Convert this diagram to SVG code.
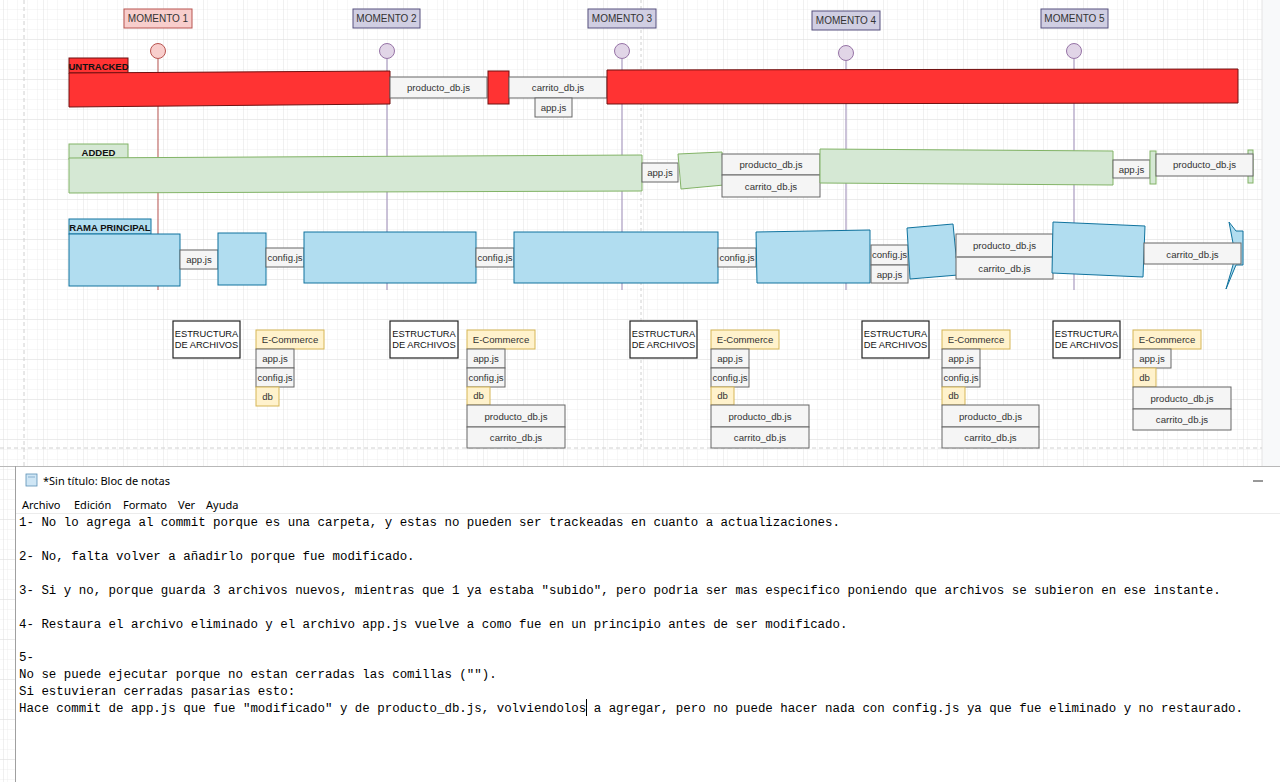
<svg xmlns="http://www.w3.org/2000/svg" width="1280" height="782" viewBox="0 0 1280 782">
<defs>
<pattern id="minor" width="10" height="10" patternUnits="userSpaceOnUse" x="4" y="0">
<path d="M10 0V10H0" fill="none" stroke="#eeeeee" stroke-width="1"/>
</pattern>
<pattern id="major" width="40" height="40" patternUnits="userSpaceOnUse" x="4" y="0">
<rect width="40" height="40" fill="url(#minor)"/>
<path d="M40 0V40H0" fill="none" stroke="#e0e0e0" stroke-width="1"/>
</pattern>
<style>
text{font-family:"Liberation Sans",Arial,sans-serif;fill:#333;}
.lbl{font-size:9.6px;text-anchor:middle;}
.est-t{font-size:9.3px;text-anchor:middle;fill:#111;}
.mom{font-size:10px;text-anchor:middle;fill:#333;}
.hdr{font-size:9.5px;font-weight:bold;fill:#111;text-anchor:middle;}
.file{fill:#f5f5f5;stroke:#666;stroke-width:1;}
.red{fill:#ff3333;stroke:#6f1111;stroke-width:1;}
.grn{fill:#d5e8d4;stroke:#82b366;stroke-width:1;}
.blu{fill:#b1ddf0;stroke:#10739e;stroke-width:1;}
.yel{fill:#fff2cc;stroke:#d6b656;stroke-width:1;}
.mp{fill:#d0cee2;stroke:#56517e;stroke-width:1;}
.mr{fill:#f8cecc;stroke:#b85450;stroke-width:1;}
.est{fill:#fff;stroke:#222;stroke-width:1.2;}
.mono{font-family:"Liberation Mono","DejaVu Sans Mono",monospace;font-size:12.45px;fill:#000;}
.ui{font-family:"Noto Sans","Liberation Sans",sans-serif;font-size:11px;fill:#000;}
</style>
</defs>

<!-- canvas background -->
<rect x="0" y="0" width="1280" height="782" fill="#ffffff"/>
<rect x="0" y="0" width="1262" height="466" fill="url(#major)"/>
<rect x="1262" y="0" width="18" height="466" fill="#f8f9fa"/>
<line x1="1262" y1="0" x2="1262" y2="466" stroke="#e4e4e4"/>
<line x1="24" y1="0" x2="24" y2="466" stroke="#d0d0d0" stroke-dasharray="4 3"/>
<line x1="641" y1="0" x2="641" y2="448" stroke="#d0d0d0" stroke-dasharray="3 3"/>
<line x1="0" y1="448" x2="1262" y2="448" stroke="#d0d0d0" stroke-dasharray="4 3"/>

<!-- lifelines -->
<g id="lifelines">
<line x1="158" y1="59" x2="158" y2="290" stroke="#b85450" stroke-width="1"/>
<line x1="387" y1="59" x2="387" y2="290" stroke="#a99bc0" stroke-width="1.2"/>
<line x1="622" y1="59" x2="622" y2="290" stroke="#a99bc0" stroke-width="1.2"/>
<line x1="846" y1="61" x2="846" y2="290" stroke="#a99bc0" stroke-width="1.2"/>
<line x1="1074" y1="59" x2="1074" y2="290" stroke="#a99bc0" stroke-width="1.2"/>
</g>

<!-- momentos -->
<g id="momento1"><rect class="mr" x="124" y="9" width="68" height="19"/><text class="mom" x="158" y="22">MOMENTO 1</text><circle cx="158" cy="51" r="7.5" class="mr"/></g>
<g id="momento2"><rect class="mp" x="353" y="9" width="67" height="19"/><text class="mom" x="386.5" y="22">MOMENTO 2</text><circle cx="387" cy="51" r="7.5" fill="#e1d5e7" stroke="#9673a6"/></g>
<g id="momento3"><rect class="mp" x="588" y="9" width="68" height="19"/><text class="mom" x="622" y="22">MOMENTO 3</text><circle cx="622" cy="51" r="7.5" fill="#e1d5e7" stroke="#9673a6"/></g>
<g id="momento4"><rect class="mp" x="812" y="11" width="68" height="19"/><text class="mom" x="846" y="24">MOMENTO 4</text><circle cx="846" cy="53" r="7.5" fill="#e1d5e7" stroke="#9673a6"/></g>
<g id="momento5"><rect class="mp" x="1041" y="9" width="67" height="19"/><text class="mom" x="1074.5" y="22">MOMENTO 5</text><circle cx="1074" cy="51" r="7.5" fill="#e1d5e7" stroke="#9673a6"/></g>

<!-- UNTRACKED -->
<g id="untracked">
<rect class="red" x="69" y="58" width="59" height="15"/>
<text class="hdr" x="98.5" y="69.5">UNTRACKED</text>
<polygon class="red" points="69,73 390,71 390,104 69,107"/>
<rect class="file" x="390" y="77" width="97" height="21"/><text class="lbl" x="438.5" y="91">producto_db.js</text>
<rect class="red" x="488" y="71" width="21" height="33"/>
<rect class="file" x="509" y="77" width="98" height="21"/><text class="lbl" x="558" y="91">carrito_db.js</text>
<rect class="file" x="535" y="98" width="37" height="19"/><text class="lbl" x="553.5" y="111">app.js</text>
<polygon class="red" points="607,70 1238,69 1238,103 607,104"/>
</g>

<!-- ADDED -->
<g id="added">
<rect class="grn" x="69" y="144" width="59" height="15"/>
<text class="hdr" x="98.5" y="155.5">ADDED</text>
<polygon class="grn" points="69,158 642,155 642,191 69,193"/>
<rect class="file" x="642" y="163" width="36" height="19"/><text class="lbl" x="660" y="176">app.js</text>
<polygon class="grn" points="678,154 722,152 724,185 681,189"/>
<rect class="file" x="722" y="154" width="98" height="21"/><text class="lbl" x="771" y="168">producto_db.js</text>
<rect class="file" x="722" y="175" width="98" height="22"/><text class="lbl" x="771" y="190">carrito_db.js</text>
<polygon class="grn" points="820,149 1113,151 1113,185 820,183"/>
<rect class="file" x="1113" y="160" width="37" height="18"/><text class="lbl" x="1131.5" y="173">app.js</text>
<rect class="grn" x="1150" y="151" width="6" height="33"/>
<rect class="grn" x="1248" y="150" width="5" height="33"/>
<rect class="file" x="1156" y="154" width="97" height="22"/><text class="lbl" x="1204.5" y="168">producto_db.js</text>
</g>

<!-- RAMA PRINCIPAL -->
<g id="rama-principal">
<rect class="blu" x="69" y="219" width="82" height="15"/>
<text class="hdr" x="110" y="230.5">RAMA PRINCIPAL</text>
<rect class="blu" x="69" y="234" width="111" height="52"/>
<rect class="file" x="180" y="250" width="38" height="19"/><text class="lbl" x="199" y="263">app.js</text>
<rect class="blu" x="218" y="233" width="48" height="52"/>
<rect class="file" x="266" y="248" width="38" height="19"/><text class="lbl" x="285" y="261">config.js</text>
<rect class="blu" x="304" y="232" width="172" height="51"/>
<rect class="file" x="476" y="248" width="38" height="19"/><text class="lbl" x="495" y="261">config.js</text>
<rect class="blu" x="514" y="232" width="204" height="51"/>
<rect class="file" x="718" y="248" width="38" height="19"/><text class="lbl" x="737" y="261">config.js</text>
<polygon class="blu" points="756,232 870,230 870,283 757,283"/>
<rect class="file" x="871" y="245" width="37" height="20"/><text class="lbl" x="889.5" y="258">config.js</text>
<rect class="file" x="871" y="265" width="37" height="18"/><text class="lbl" x="889.5" y="278">app.js</text>
<polygon class="blu" points="907,228 953,224 958,275 910,279"/>
<rect class="file" x="956" y="234" width="97" height="23"/><text class="lbl" x="1004.5" y="249">producto_db.js</text>
<rect class="file" x="956" y="257" width="97" height="22"/><text class="lbl" x="1004.5" y="272">carrito_db.js</text>
<line x1="956" y1="257" x2="1053" y2="257" stroke="#999" stroke-width="2"/>
<polygon class="blu" points="1053,222 1145,226 1143,277 1052,273"/>
<polygon class="blu" points="1229,222 1236,231 1243,231 1243,265 1236,265 1226,289 1233,265 1233,243"/>
<rect class="file" x="1144" y="243" width="97" height="21"/><text class="lbl" x="1192.5" y="258">carrito_db.js</text>
</g>

<!-- Estructuras de archivos -->
<g id="estructura1">
<rect class="est" x="173" y="321" width="67" height="37"/>
<text class="est-t" x="206.5" y="337">ESTRUCTURA</text><text class="est-t" x="206.5" y="348">DE ARCHIVOS</text>
<rect class="yel" x="256" y="330" width="68" height="19"/><text class="lbl" x="290" y="343">E-Commerce</text>
<rect class="file" x="256" y="349" width="38" height="19"/><text class="lbl" x="275" y="362">app.js</text>
<rect class="file" x="256" y="368" width="38" height="19"/><text class="lbl" x="275" y="381">config.js</text>
<rect class="yel" x="256" y="387" width="23" height="19"/><text class="lbl" x="267.5" y="400">db</text>
</g>
<g id="estructura2">
<rect class="est" x="390" y="321" width="68" height="37"/>
<text class="est-t" x="424" y="337">ESTRUCTURA</text><text class="est-t" x="424" y="348">DE ARCHIVOS</text>
<rect class="yel" x="467" y="330" width="68" height="19"/><text class="lbl" x="501" y="343">E-Commerce</text>
<rect class="file" x="467" y="349" width="38" height="19"/><text class="lbl" x="486" y="362">app.js</text>
<rect class="file" x="467" y="368" width="38" height="19"/><text class="lbl" x="486" y="381">config.js</text>
<rect class="yel" x="467" y="387" width="23" height="18"/><text class="lbl" x="478.5" y="399">db</text>
<rect class="file" x="467" y="405" width="98" height="22"/><text class="lbl" x="516" y="420">producto_db.js</text>
<rect class="file" x="467" y="427" width="98" height="21"/><text class="lbl" x="516" y="441">carrito_db.js</text>
</g>
<g id="estructura3">
<rect class="est" x="630" y="321" width="67" height="37"/>
<text class="est-t" x="663.5" y="337">ESTRUCTURA</text><text class="est-t" x="663.5" y="348">DE ARCHIVOS</text>
<rect class="yel" x="711" y="330" width="68" height="19"/><text class="lbl" x="745" y="343">E-Commerce</text>
<rect class="file" x="711" y="349" width="38" height="19"/><text class="lbl" x="730" y="362">app.js</text>
<rect class="file" x="711" y="368" width="38" height="19"/><text class="lbl" x="730" y="381">config.js</text>
<rect class="yel" x="711" y="387" width="23" height="18"/><text class="lbl" x="722.5" y="399">db</text>
<rect class="file" x="711" y="405" width="98" height="22"/><text class="lbl" x="760" y="420">producto_db.js</text>
<rect class="file" x="711" y="427" width="98" height="21"/><text class="lbl" x="760" y="441">carrito_db.js</text>
</g>
<g id="estructura4">
<rect class="est" x="862" y="321" width="67" height="37"/>
<text class="est-t" x="895.5" y="337">ESTRUCTURA</text><text class="est-t" x="895.5" y="348">DE ARCHIVOS</text>
<rect class="yel" x="942" y="330" width="68" height="19"/><text class="lbl" x="976" y="343">E-Commerce</text>
<rect class="file" x="942" y="349" width="38" height="19"/><text class="lbl" x="961" y="362">app.js</text>
<rect class="file" x="942" y="368" width="38" height="19"/><text class="lbl" x="961" y="381">config.js</text>
<rect class="yel" x="942" y="387" width="23" height="18"/><text class="lbl" x="953.5" y="399">db</text>
<rect class="file" x="942" y="405" width="97" height="22"/><text class="lbl" x="990.5" y="420">producto_db.js</text>
<rect class="file" x="942" y="427" width="97" height="21"/><text class="lbl" x="990.5" y="441">carrito_db.js</text>
</g>
<g id="estructura5">
<rect class="est" x="1053" y="321" width="67" height="37"/>
<text class="est-t" x="1086.5" y="337">ESTRUCTURA</text><text class="est-t" x="1086.5" y="348">DE ARCHIVOS</text>
<rect class="yel" x="1133" y="330" width="68" height="19"/><text class="lbl" x="1167" y="343">E-Commerce</text>
<rect class="file" x="1133" y="349" width="38" height="19"/><text class="lbl" x="1152" y="362">app.js</text>
<rect class="yel" x="1133" y="368" width="23" height="19"/><text class="lbl" x="1144.5" y="381">db</text>
<rect class="file" x="1133" y="387" width="98" height="22"/><text class="lbl" x="1182" y="402">producto_db.js</text>
<rect class="file" x="1133" y="409" width="98" height="21"/><text class="lbl" x="1182" y="423">carrito_db.js</text>
</g>

<!-- Notepad window -->
<g id="notepad">
<rect x="0" y="466" width="15" height="316" fill="url(#major)"/>
<rect x="15" y="466" width="1265" height="316" fill="#ffffff"/>
<line x1="0" y1="466.5" x2="1280" y2="466.5" stroke="#b8b8b8"/>
<line x1="15.5" y1="466" x2="15.5" y2="782" stroke="#a0a0a0"/>
<rect x="26" y="474" width="11" height="12" fill="#cfe6f5" stroke="#5b8fb5" stroke-width="0.8"/>
<line x1="28" y1="477" x2="35" y2="477" stroke="#5b8fb5" stroke-width="0.6"/>
<text class="ui" x="43" y="485">*Sin título: Bloc de notas</text>
<line x1="1253" y1="481" x2="1263" y2="481" stroke="#333" stroke-width="1"/>
<text class="ui" x="22" y="509">Archivo</text>
<text class="ui" x="74" y="509">Edición</text>
<text class="ui" x="123" y="509">Formato</text>
<text class="ui" x="178" y="509">Ver</text>
<text class="ui" x="206" y="509">Ayuda</text>
<line x1="16" y1="513.5" x2="1280" y2="513.5" stroke="#ececec"/>
<text class="mono" x="19" y="526">1- No lo agrega al commit porque es una carpeta, y estas no pueden ser trackeadas en cuanto a actualizaciones.</text>
<text class="mono" x="19" y="560">2- No, falta volver a añadirlo porque fue modificado.</text>
<text class="mono" x="19" y="594">3- Si y no, porque guarda 3 archivos nuevos, mientras que 1 ya estaba "subido", pero podria ser mas especifico poniendo que archivos se subieron en ese instante.</text>
<text class="mono" x="19" y="628">4- Restaura el archivo eliminado y el archivo app.js vuelve a como fue en un principio antes de ser modificado.</text>
<text class="mono" x="19" y="661">5-</text>
<text class="mono" x="19" y="678">No se puede ejecutar porque no estan cerradas las comillas ("").</text>
<text class="mono" x="19" y="695">Si estuvieran cerradas pasarias esto:</text>
<text class="mono" x="19" y="712">Hace commit de app.js que fue "modificado" y de producto_db.js, volviendolos a agregar, pero no puede hacer nada con config.js ya que fue eliminado y no restaurado.</text>
<line x1="586.5" y1="699" x2="586.5" y2="716" stroke="#000" stroke-width="1"/>
</g>
</svg>
